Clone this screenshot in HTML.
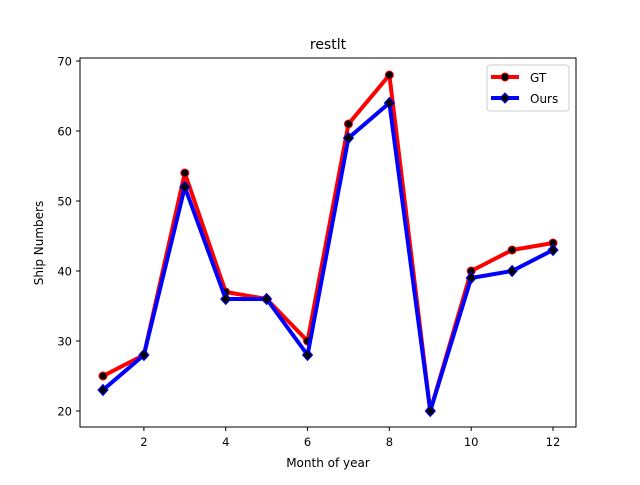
<!DOCTYPE html>
<html><head><meta charset="utf-8"><style>
body{margin:0;background:#fff}
svg text{font-family:"DejaVu Sans","Liberation Sans",sans-serif;fill:#000}
</style></head><body>
<svg id="c" width="640" height="480" viewBox="0 0 640 480">
<rect width="640" height="480" fill="#fff"/>
<text x="328" y="49" font-size="14" text-anchor="middle">restlt</text>
<text x="328" y="467" font-size="12" text-anchor="middle">Month of year</text>
<text transform="translate(43,243) rotate(-90)" font-size="12" text-anchor="middle">Ship Numbers</text>
<g id="ticks"></g>
<g id="series"></g>
<rect x="80" y="58" width="496" height="369" fill="none" stroke="#000" stroke-width="1"/>
<g>
<rect x="487" y="65" width="82" height="46" rx="3" fill="#fff" stroke="#ccc"/>
<g>
<line x1="491" y1="77" x2="519" y2="77" stroke="#f00" stroke-width="4"/>
<circle cx="505" cy="77" r="4" fill="#000" stroke="#f00" stroke-width="1"/>
<text x="530" y="82" font-size="12">GT</text></g>
<g>
<line x1="491" y1="98" x2="519" y2="98" stroke="#00f" stroke-width="4"/>
<path d="M505,93 L510,98 L505,103 L500,98 Z" fill="#000" stroke="#00f" stroke-width="1"/>
<text x="530" y="103" font-size="12">Ours</text></g>
</g>
</svg>
<script>
const months=[1,2,3,4,5,6,7,8,9,10,11,12];
const gtValues=[25,28,54,37,36,30,61,68,20,40,43,44];
const oursValues=[23,28,52,36,36,28,59,64,20,39,40,43];
const xTicks=[2,4,6,8,10,12];
const yTicks=[20,30,40,50,60,70];
const NS="http://www.w3.org/2000/svg";
function xs(v){return 103+(v-1)*(553-103)/11;}
function ys(v){return 411-(v-20)*7;}
const tg=document.getElementById('ticks');
function mk(t,a,p){const e=document.createElementNS(NS,t);for(const k in a)e.setAttribute(k,a[k]);p.appendChild(e);return e;}
xTicks.forEach(v=>{
 const l=mk('line',{x1:xs(v),x2:xs(v),y1:427,y2:431,stroke:'#000'},tg);
 
 
 const t=mk('text',{x:xs(v),y:446,'font-size':11.5,'text-anchor':'middle'},tg);t.textContent=v;
 
 
});
yTicks.forEach(v=>{
 const l=mk('line',{x1:76,x2:80,y1:ys(v),y2:ys(v),stroke:'#000'},tg);
 
 
 const t=mk('text',{x:72,y:ys(v)+4.5,'font-size':11.5,'text-anchor':'end'},tg);t.textContent=v;
 
 
});
const sg=document.getElementById('series');
function series(vals,color,shape,name){
 const p=mk('polyline',{points:vals.map((v,i)=>xs(months[i])+','+ys(v)).join(' '),fill:'none',stroke:color,'stroke-width':4,'stroke-linejoin':'round'},sg);
 
 
 vals.forEach((v,i)=>{
  const x=xs(months[i]),y=ys(v);let m;
  if(shape==='o')m=mk('circle',{cx:x,cy:y,r:4,fill:'#000',stroke:color,'stroke-width':1},sg);
  else m=mk('path',{d:`M${x},${y-5.5} L${x+5},${y} L${x},${y+5.5} L${x-5},${y} Z`,fill:'#000',stroke:color,'stroke-width':1},sg);
  
  
 });
}
series(gtValues,'#f00','o','gt');
series(oursValues,'#00f','d','ours');
</script>
</body></html>
